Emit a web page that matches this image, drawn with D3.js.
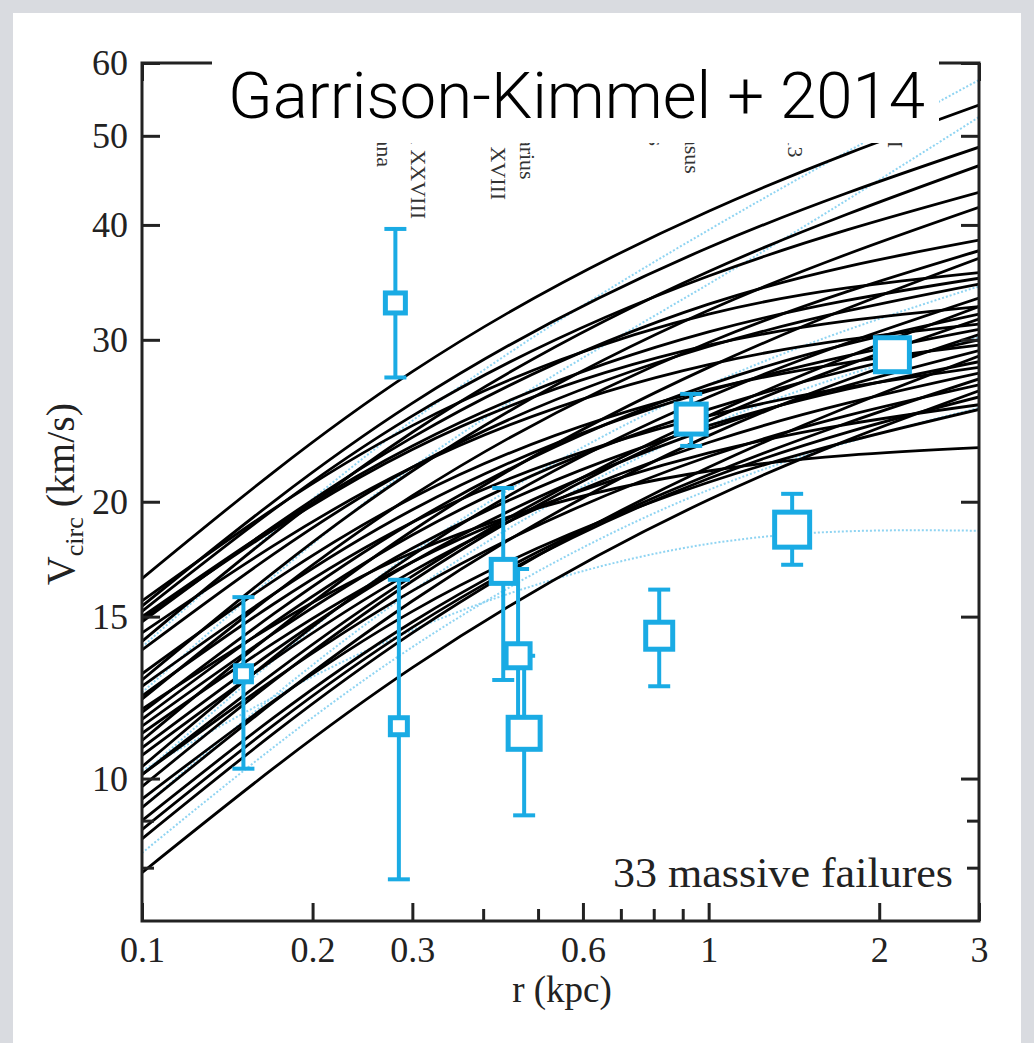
<!DOCTYPE html>
<html>
<head>
<meta charset="utf-8">
<script src="https://cdn.jsdelivr.net/npm/d3@7"></script>
<style>
  html, body { margin: 0; padding: 0; background: #d9dbe0; }
  svg { display: block; }
</style>
</head>
<body>
<svg width="1034" height="1043"></svg>
<script>
const radii = [0.1, 0.3, 1, 3];

// the 33 massive failures, Vcirc (km/s) at the radii above
const haloCurves = [
  [16.5, 27.7, 41.4, 54.0],
  [15.4, 25.6, 37.8, 48.6],
  [14.1, 23.8, 35.6, 46.4],
  [15.2, 24.8, 35.2, 43.4],
  [12.8, 21.6, 32.3, 41.8],
  [14.8, 23.5, 32.8, 38.5],
  [12.2, 20.3, 29.8, 37.5],
  [11.0, 18.6, 28.0, 36.8],
  [15.6, 24.2, 32.0, 35.5],
  [13.8, 21.8, 29.5, 34.5],
  [10.3, 17.5, 26.0, 33.3],
  [14.9, 22.8, 29.6, 32.6],
  [11.8, 19.0, 26.8, 32.0],
  [9.8, 16.4, 24.5, 31.6],
  [14.4, 21.8, 28.2, 31.2],
  [12.6, 19.6, 26.4, 30.8],
  [9.3, 15.6, 23.6, 30.4],
  [11.6, 18.4, 25.2, 30.0],
  [13.0, 20.2, 26.5, 29.6],
  [10.8, 17.2, 24.0, 29.2],
  [8.6, 14.4, 21.8, 28.8],
  [11.4, 17.8, 24.2, 28.4],
  [12.3, 19.0, 24.8, 28.0],
  [10.6, 16.8, 23.2, 27.6],
  [9.0, 14.8, 21.4, 27.2],
  [10.1, 16.0, 22.4, 26.8],
  [7.9, 13.2, 20.1, 26.4],
  [11.2, 17.2, 22.6, 25.5],
  [9.5, 15.2, 21.0, 25.2],
  [11.9, 17.6, 21.6, 22.9],
  [15.0, 23.0, 30.6, 35.0],
  [10.1, 16.6, 24.8, 32.6],
  [8.8, 14.6, 21.2, 26.0]
];

// light blue dotted curves
const blueCurves = [
  [13.9, 24.5, 39.5, 57.5],
  [12.4, 21.8, 34.5, 52.4],
  [10.1, 17.6, 26.8, 34.3],
  [9.3, 16.0, 24.2, 30.2],
  [8.3, 13.9, 20.6, 25.3],
  [10.2, 14.5, 18.0, 18.6]
];

// observed dwarfs (two names are not visible in the figure)
const dwarfNames = ["", "Tucana", "And XXVIII", "And XVIII", "Aquarius", "", "Cetus", "Pegasus", "IC 1613", "WLM"];
const dwarfR   = [0.151, 0.280, 0.284, 0.434, 0.461, 0.4725, 0.818, 0.9315, 1.404, 2.11];
const dwarfV   = [13.0, 32.9, 11.4, 16.8, 13.6, 11.2, 14.3, 24.6, 18.65, 28.9];
const dwarfVlo = [10.25, 27.3, 7.77, 12.8, 11.6, 9.12, 12.6, 23.0, 17.08, 28.9];
const dwarfVhi = [15.75, 39.6, 16.45, 20.7, 16.9, 13.6, 16.05, 26.2, 20.4, 28.9];
const dwarfWeight = [1.6, 2.0, 1.7, 2.4, 2.4, 3.2, 2.7, 3.0, 3.5, 3.4];

// ticks
const xTicks = [0.1, 0.2, 0.3, 0.4, 0.5, 0.6, 0.7, 0.8, 0.9, 1, 2, 3];
const xLabels = [0.1, 0.2, 0.3, 0.6, 1, 2, 3];
const yTicks = [8, 9, 10, 15, 20, 30, 40, 50, 60];
const yLabels = [10, 15, 20, 30, 40, 50, 60];

const serif = "'Liberation Serif', 'Times New Roman', serif";
const blue = "#1aabe4";
const ink = "#222";

const svg = d3.select("svg");

// white panel inside the grey border
svg.append("rect")
  .attr("x", 13).attr("y", 13)
  .attr("width", 1008).attr("height", 1040)
  .attr("fill", "#fff");

const x = d3.scaleLog().domain([0.1, 3]).range([142, 979]);
const y = d3.scaleLog().domain([7, 60]).range([921, 63]);

svg.append("clipPath").attr("id", "plot")
  .append("rect")
  .attr("x", 142).attr("y", 63)
  .attr("width", 837).attr("height", 858);

const line = d3.line()
  .x((d, i) => x(radii[i]))
  .y(d => y(d))
  .curve(d3.curveNatural);

const curves = svg.append("g").attr("clip-path", "url(#plot)").attr("fill", "none");

curves.selectAll(".blue")
  .data(blueCurves)
  .join("path")
  .attr("class", "blue")
  .attr("d", line)
  .attr("stroke", "#8fd4f2")
  .attr("stroke-width", 2)
  .attr("stroke-dasharray", "2,2");

curves.selectAll(".halo")
  .data(haloCurves)
  .join("path")
  .attr("class", "halo")
  .attr("d", line)
  .attr("stroke", "#000")
  .attr("stroke-width", 2.8);

// axes, ticks pointing inward
const isMinorX = d => !xLabels.includes(d);
const isMinorY = d => !yLabels.includes(d);

function styleAxis(g) {
  g.select(".domain").remove();
  g.selectAll(".tick line").attr("stroke", ink).attr("stroke-width", 3);
  g.selectAll(".tick text")
    .attr("font-family", serif)
    .attr("font-size", 36)
    .attr("fill", ink);
}

svg.append("g")
  .attr("transform", "translate(0,921)")
  .call(d3.axisBottom(x).tickValues(xTicks).tickSizeInner(-18).tickSizeOuter(0).tickPadding(15)
    .tickFormat(d => xLabels.includes(d) ? d : ""))
  .call(styleAxis)
  .call(g => g.selectAll(".tick line").filter(isMinorX).attr("y2", -12));

svg.append("g")
  .attr("transform", "translate(0,63)")
  .call(d3.axisTop(x).tickValues(xTicks).tickSizeInner(-18).tickSizeOuter(0).tickFormat(""))
  .call(styleAxis)
  .call(g => g.selectAll(".tick line").filter(isMinorX).attr("y2", 12));

svg.append("g")
  .attr("transform", "translate(142,0)")
  .call(d3.axisLeft(y).tickValues(yTicks).tickSizeInner(-18).tickSizeOuter(0).tickPadding(14)
    .tickFormat(d => yLabels.includes(d) ? d : ""))
  .call(styleAxis)
  .call(g => g.selectAll(".tick line").filter(isMinorY).attr("x2", 12));

svg.append("g")
  .attr("transform", "translate(979,0)")
  .call(d3.axisRight(y).tickValues(yTicks).tickSizeInner(-18).tickSizeOuter(0).tickFormat(""))
  .call(styleAxis)
  .call(g => g.selectAll(".tick line").filter(isMinorY).attr("x2", -12));

// frame
svg.append("rect")
  .attr("x", 142).attr("y", 63)
  .attr("width", 837).attr("height", 858)
  .attr("fill", "none")
  .attr("stroke", ink)
  .attr("stroke-width", 3);

// dwarf names, rotated, mostly hidden by the title box
const nudgeX = [0, -18, 12, -12, 2, 0, -10, -6, -4, -4];
const startY = [103, 103, 106, 103, 99, 103, 96, 103, 86, 94];
svg.append("g")
  .selectAll("text")
  .data(dwarfNames)
  .join("text")
  .attr("transform", (d, i) => `translate(${x(dwarfR[i]) + nudgeX[i]},${startY[i]}) rotate(90)`)
  .attr("font-family", serif)
  .attr("font-size", 22)
  .attr("fill", "#333")
  .text(d => d);

// data points
const pts = dwarfR.map((r, i) => ({ r, v: dwarfV[i], lo: dwarfVlo[i], hi: dwarfVhi[i], w: dwarfWeight[i] }));
const size = d3.scaleLinear().domain([0, 1]).range([0, 10]);

const bars = svg.append("g").attr("stroke", blue).attr("stroke-width", 4);
bars.selectAll(".bar")
  .data(pts)
  .join("line")
  .attr("x1", d => x(d.r)).attr("x2", d => x(d.r))
  .attr("y1", d => y(d.lo)).attr("y2", d => y(d.hi));
bars.selectAll(".cap")
  .data(pts.flatMap(d => [{ r: d.r, v: d.lo }, { r: d.r, v: d.hi }]))
  .join("line")
  .attr("x1", d => x(d.r) - 11).attr("x2", d => x(d.r) + 11)
  .attr("y1", d => y(d.v)).attr("y2", d => y(d.v));

svg.append("g")
  .selectAll("rect")
  .data(pts)
  .join("rect")
  .attr("x", d => x(d.r) - size(d.w) / 2)
  .attr("y", d => y(d.v) - size(d.w) / 2)
  .attr("width", d => size(d.w))
  .attr("height", d => size(d.w))
  .attr("fill", "#fff")
  .attr("stroke", blue)
  .attr("stroke-width", 5);

// annotation
svg.append("text")
  .attr("x", 953).attr("y", 887)
  .attr("text-anchor", "end")
  .attr("font-family", serif)
  .attr("font-size", 42)
  .attr("fill", ink)
  .attr("textLength", 340)
  .attr("lengthAdjust", "spacingAndGlyphs")
  .text("33 massive failures");

// axis labels
svg.append("text")
  .attr("x", 562).attr("y", 1002)
  .attr("text-anchor", "middle")
  .attr("font-family", serif)
  .attr("font-size", 37)
  .attr("fill", ink)
  .text("r (kpc)");

const yl = svg.append("text")
  .attr("transform", "translate(74,494) rotate(-90)")
  .attr("text-anchor", "middle")
  .attr("font-family", serif)
  .attr("font-size", 40)
  .attr("fill", ink);
yl.append("tspan").text("V");
yl.append("tspan").attr("font-size", 26).attr("dy", 9).text("circ");
yl.append("tspan").attr("dy", -9).text(" (km/s)");

// title box over the top frame
svg.append("rect")
  .attr("x", 212).attr("y", 44)
  .attr("width", 727).attr("height", 99)
  .attr("fill", "#fff");

svg.append("text")
  .attr("x", 228).attr("y", 118)
  .attr("font-family", "Roboto, 'Helvetica Neue', Lato, sans-serif")
  .attr("font-weight", 300)
  .attr("font-size", 64)
  .attr("fill", "#000")
  .attr("textLength", 697)
  .attr("lengthAdjust", "spacingAndGlyphs")
  .text("Garrison-Kimmel + 2014");
</script>
</body>
</html>
